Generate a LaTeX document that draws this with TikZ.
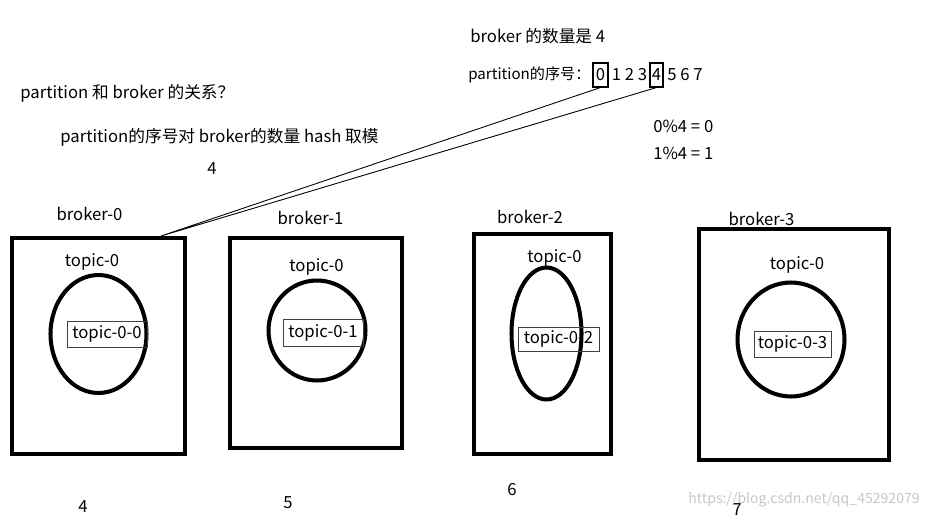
\documentclass[tikz,border=0pt]{standalone}
\usepackage{fontspec}
\setmainfont{Noto Sans CJK SC}
\usepackage{tikz}
\usetikzlibrary{positioning}
\usetikzlibrary{shapes.geometric}

\begin{document}
\begin{tikzpicture}[x=0.02cm, y=-0.02cm, font=\fontsize{9.5}{11}\selectfont,
        every node/.style={inner sep=0pt},
        broker/.style={rectangle, draw, line width=2.3pt},
        topic/.style={ellipse, draw, line width=2.3pt},
        part/.style={rectangle, draw=black!75, line width=0.5pt},
        idx/.style={rectangle, draw, line width=0.6pt, minimum height=0.48cm}]
        \useasboundingbox (0,0) rectangle (929,520);

        % notes on top
        \node (count) [anchor=west] at (470,36) {broker 的数量是 4};
        \node (idx0) [idx, minimum width=0.3cm] at (600.5,75) {0};
        \node (seq_label) [left=1pt of idx0, font=\fontsize{8.6}{10}\selectfont] {partition的序号：};
        \node (idx4) [idx, minimum width=0.26cm] at (656.5,75) {4};
        \node (seq_mid) at (629.5,75) {1 2 3};
        \node (seq_end) [right=2pt of idx4] {5 6 7};
        \node (question) [anchor=west] at (20,93) {partition 和 broker 的关系？};
        \node (rule) [anchor=west] at (60,137) {partition的序号对 broker的数量 hash 取模};
        \node (four) at (212,169) {4};
        \node (mod0) [anchor=west] at (653,126) {0\%4 = 0};
        \node (mod1) [anchor=west] at (653,153) {1\%4 = 1};

        % brokers
        \node (broker0) [broker, minimum width=3.46cm, minimum height=4.32cm] at (98.5,346) {};
        \node (broker1) [broker, minimum width=3.44cm, minimum height=4.2cm] at (316,343) {};
        \node (broker2) [broker, minimum width=2.74cm, minimum height=4.4cm] at (542.5,344) {};
        \node (broker3) [broker, minimum width=3.8cm, minimum height=4.62cm] at (794,344.5) {};
        \node (broker0_name) at (89.5,214) {broker-0};
        \node (broker1_name) at (310.5,218) {broker-1};
        \node (broker2_name) at (530,217) {broker-2};
        \node (broker3_name) at (761.5,219) {broker-3};

        % topic-0 in each broker
        \node (topic0_name) at (92,262) {topic-0};
        \node (topic1_name) at (316.5,267) {topic-0};
        \node (topic2_name) at (554.5,258) {topic-0};
        \node (topic3_name) at (797,265) {topic-0};
        \node (topic0) [topic, minimum width=1.92cm, minimum height=2.36cm] at (98.5,334) {};
        \node (topic1) [topic, minimum width=1.94cm, minimum height=2.0cm] at (317,330.5) {};
        \node (topic2) [topic, minimum width=1.4cm, minimum height=2.64cm] at (546.5,333.5) {};
        \node (topic3) [topic, minimum width=2.14cm, minimum height=2.28cm] at (791,339.5) {};

        % partitions
        \node (part0) [part, minimum width=1.6cm, minimum height=0.52cm] at (107,334) {topic-0-0};
        \node (part1) [part, minimum width=1.6cm, minimum height=0.54cm] at (323,332.5) {topic-0-1};
        \node (part2) [part, minimum width=1.62cm, minimum height=0.48cm] at (558.5,339) {topic-0-2};
        \node (part3) [part, minimum width=1.54cm, minimum height=0.52cm] at (792.5,344) {topic-0-3};

        % numbers below
        \node (below0) at (83,507) {4};
        \node (below1) at (288,503) {5};
        \node (below2) at (512,490) {6};
        \node (below3) at (737,510) {7};

        \coordinate (hit) at (161,236);
        \path[draw, line width=0.5pt]
            (idx0.south) -- (hit)
            (idx4.south) -- (hit)
        ;

        \node (mark) [anchor=east, font=\fontsize{8}{10}\selectfont, text=black!22] at (920,500) {https://blog.csdn.net/qq\_45292079};
    \end{tikzpicture}
\end{document}
